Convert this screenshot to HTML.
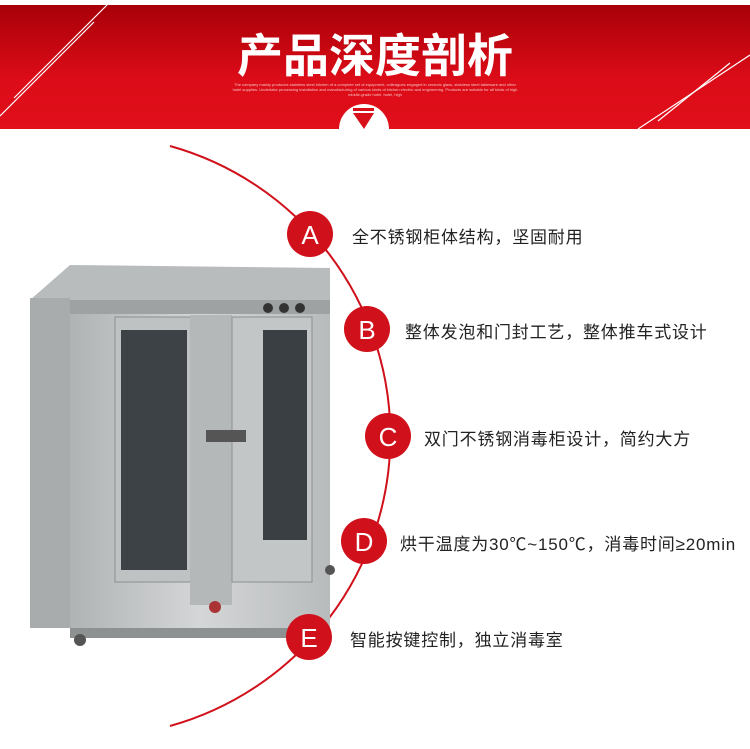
<!DOCTYPE html>
<html><head><meta charset="utf-8"><style>
body{margin:0;width:750px;height:749px;background:#fff;position:relative;overflow:hidden;font-family:"Liberation Sans","Noto Sans CJK SC",sans-serif}
.hdr{position:absolute;left:0;top:5px;width:750px;height:124px;background:linear-gradient(#a80008,#dc0c18 60%,#e00f1a)}
.t{position:absolute;left:0;width:750px;text-align:center;top:20px;font-size:46px;font-weight:bold;color:#fff;letter-spacing:0px;font-family:"Noto Sans CJK SC",sans-serif}
.sub{position:absolute;left:230px;width:290px;text-align:center;top:82px;font-size:4px;line-height:5px;color:#f3c0c0}
.lbl{position:absolute;font-size:17px;letter-spacing:0.8px;color:#222;font-family:"Liberation Sans","Noto Sans CJK SC",sans-serif;white-space:nowrap}
</style></head><body>
<div class="hdr"></div>
<svg width="750" height="749" style="position:absolute;left:0;top:0">
<defs><linearGradient id="g" x1="0" x2="1"><stop offset="0" stop-color="#b0b3b4"/><stop offset="0.5" stop-color="#d4d6d7"/><stop offset="1" stop-color="#b8bbbc"/></linearGradient></defs>
<line x1="107" y1="5" x2="14" y2="98" stroke="#fff" stroke-width="1.2"/>
<line x1="94" y1="22" x2="0" y2="116" stroke="#fff" stroke-width="1.2"/>
<line x1="750" y1="55" x2="638" y2="129" stroke="#fff" stroke-width="1.2"/>
<line x1="730" y1="63" x2="658" y2="121" stroke="#fff" stroke-width="1.2"/>
<path d="M339,129 A25,25 0 0 1 389,129 Z" fill="#fff"/>
<rect x="353" y="108" width="21" height="3" fill="#d8101a"/>
<polygon points="353,113 374,113 364,129" fill="#d8101a"/>
<path d="M170,146 A301,301 0 0 1 170,726" fill="none" stroke="#d0101a" stroke-width="2"/>
<polygon points="30,300 70,265 330,268 330,300" fill="#b9bcbc"/>
<rect x="30" y="298" width="40" height="330" fill="#a9acad"/>
<rect x="70" y="300" width="260" height="330" fill="url(#g)"/>
<rect x="70" y="300" width="260" height="14" fill="#9fa2a2"/>
<rect x="115" y="317" width="78" height="265" fill="#bfc2c3" stroke="#8c8f90"/>
<rect x="121" y="330" width="66" height="240" fill="#3d4246"/>
<rect x="190" y="315" width="42" height="290" fill="#b5b8b9"/>
<rect x="232" y="317" width="80" height="265" fill="#c3c6c7" stroke="#8c8f90"/>
<rect x="263" y="330" width="44" height="210" fill="#3a3f43"/>
<rect x="206" y="430" width="40" height="12" fill="#555"/>
<circle cx="268" cy="308" r="5" fill="#333"/><circle cx="284" cy="308" r="5" fill="#333"/><circle cx="300" cy="308" r="5" fill="#333"/>
<rect x="70" y="628" width="260" height="10" fill="#8e9192"/>
<circle cx="80" cy="640" r="6" fill="#555"/><circle cx="215" cy="607" r="6" fill="#a33"/><circle cx="330" cy="570" r="5" fill="#555"/>
<g fill="#d0101a"><circle cx="310" cy="234" r="23"/><circle cx="367" cy="329" r="23"/><circle cx="388" cy="436" r="23"/><circle cx="364" cy="541" r="23"/><circle cx="309" cy="637" r="23"/></g>
<g fill="#fff" font-family="Liberation Sans,sans-serif" font-size="26" text-anchor="middle">
<text x="310" y="244">A</text><text x="367" y="339">B</text><text x="388" y="446">C</text><text x="364" y="551">D</text><text x="309" y="647">E</text></g>
</svg>
<div class="t">产品深度剖析</div>
<div class="sub">The company mainly produces stainless steel kitchen of a complete set of equipment, colleagues engaged in ceramic glass, stainless steel tableware and other hotel supplies. Undertake processing installation and manufacturing of various kinds of kitchen electric and engineering. Products are suitable for all kinds of high middle-grade hotel, hotel, high</div>
<div class="lbl" style="left:352px;top:223px">全不锈钢柜体结构，坚固耐用</div>
<div class="lbl" style="left:405px;top:318px">整体发泡和门封工艺，整体推车式设计</div>
<div class="lbl" style="left:424px;top:425px">双门不锈钢消毒柜设计，简约大方</div>
<div class="lbl" style="left:400px;top:530px">烘干温度为30℃~150℃，消毒时间≥20min</div>
<div class="lbl" style="left:350px;top:626px">智能按键控制，独立消毒室</div>
</body></html>
